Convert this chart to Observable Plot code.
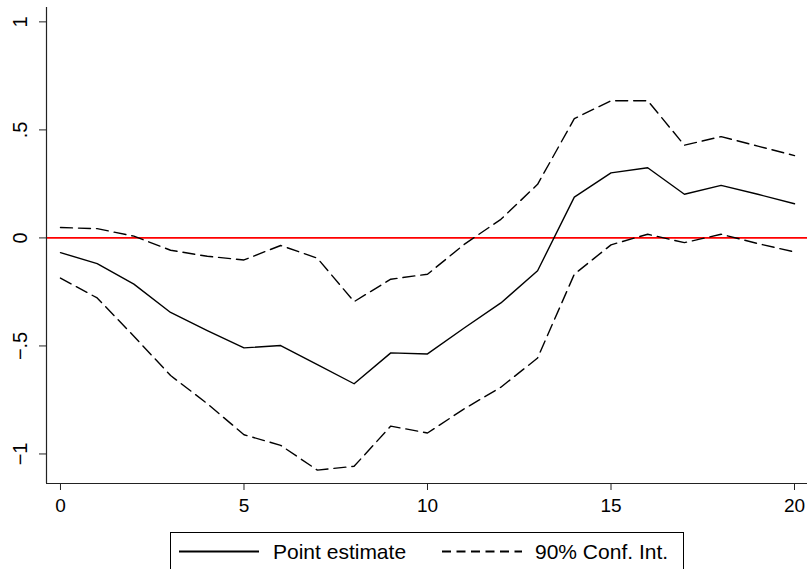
<!DOCTYPE html>
<html>
<head>
<meta charset="utf-8">
<script src="https://cdn.jsdelivr.net/npm/d3@7"></script>
<script src="https://cdn.jsdelivr.net/npm/@observablehq/plot@0.6"></script>
<style>
  html, body { margin: 0; padding: 0; background: #fff; overflow: hidden; }
  body { width: 808px; height: 569px; font-family: "Liberation Sans", Arial, sans-serif; }
  #chart svg { display: block; }
  #legend { display: block; margin-left: 170px; margin-top: 7px; }
</style>
</head>
<body>
<div id="chart"></div>
<div id="legend"></div>
<script>
// ---- data ----
const periods = [0,1,2,3,4,5,6,7,8,9,10,11,12,13,14,15,16,17,18,19,20];
const pointEstimate = [-0.068,-0.119,-0.214,-0.345,-0.429,-0.509,-0.498,-0.586,-0.675,-0.532,-0.537,-0.417,-0.301,-0.152,0.189,0.301,0.325,0.202,0.243,0.202,0.158];
const ciUpper = [0.048,0.043,0.008,-0.057,-0.085,-0.102,-0.035,-0.094,-0.295,-0.191,-0.168,-0.030,0.086,0.248,0.552,0.635,0.635,0.429,0.469,0.425,0.381];
const ciLower = [-0.186,-0.278,-0.455,-0.637,-0.767,-0.911,-0.960,-1.075,-1.057,-0.871,-0.903,-0.791,-0.691,-0.556,-0.168,-0.032,0.017,-0.022,0.017,-0.026,-0.065];
const xTicks = [0,5,10,15,20];
const yTicks = [-1,-0.5,0,0.5,1];
const yTickLabels = ["\u22121","\u2212.5","0",".5","1"];
const legendLabels = ["Point estimate","90% Conf. Int."];
const refLine = [0];

const rows = periods.map((t, i) => ({t, point: pointEstimate[i], upper: ciUpper[i], lower: ciLower[i]}));
const yLabelRows = yTicks.map((v, i) => ({v, label: yTickLabels[i]}));
const xDomain = [-0.381, 20.354];
const yDomain = [-1.1367, 1.0665];
const font = "'Liberation Sans', Arial, sans-serif";
const axisColor = "#222";

const chart = Plot.plot({
  width: 808,
  height: 525,
  marginLeft: 46,
  marginRight: 1,
  marginTop: 7,
  marginBottom: 42,
  x: {domain: xDomain},
  y: {domain: yDomain},
  style: {fontFamily: font, background: "#fff", color: "#000", overflow: "visible"},
  marks: [
    Plot.ruleY(refLine, {stroke: "#ff0000", strokeWidth: 1.6}),
    Plot.line(rows, {x: "t", y: "upper", stroke: "#000", strokeWidth: 1.4, strokeDasharray: "12,6"}),
    Plot.line(rows, {x: "t", y: "lower", stroke: "#000", strokeWidth: 1.4, strokeDasharray: "12,6"}),
    Plot.line(rows, {x: "t", y: "point", stroke: "#000", strokeWidth: 1.4}),
    Plot.ruleX([xDomain[0]], {stroke: axisColor, strokeWidth: 1.2}),
    Plot.ruleY([yDomain[0]], {stroke: axisColor, strokeWidth: 1.2}),
    Plot.axisX({ticks: xTicks, tickSize: 7, tickPadding: 8, fontSize: 19, stroke: axisColor, label: null, tickFormat: d => String(d)}),
    Plot.axisY({ticks: yTicks, tickSize: 7, stroke: axisColor, label: null, tickFormat: () => ""}),
    Plot.text(yLabelRows, {y: "v", text: "label", frameAnchor: "left", dx: -26, rotate: -90,
      textAnchor: "middle", lineAnchor: "middle", fontSize: 20, fill: "#000"})
  ]
});
document.getElementById("chart").appendChild(chart);

// ---- legend (below the plot) ----
const lg = d3.select("#legend").append("svg")
  .attr("width", 514).attr("height", 40)
  .style("display", "block")
  .style("font-family", font);
lg.append("rect").attr("x", 0.5).attr("y", 0.5).attr("width", 513).attr("height", 45)
  .attr("fill", "#fff").attr("stroke", "#000").attr("stroke-width", 1);
lg.append("line").attr("x1", 9).attr("x2", 89).attr("y1", 19.5).attr("y2", 19.5)
  .attr("stroke", "#000").attr("stroke-width", 1.8);
lg.append("text").attr("x", 103).attr("y", 27).attr("font-size", 21).attr("fill", "#000").text(legendLabels[0]);
lg.append("line").attr("x1", 272).attr("x2", 352).attr("y1", 19.5).attr("y2", 19.5)
  .attr("stroke", "#000").attr("stroke-width", 1.8).attr("stroke-dasharray", "9,5.5");
lg.append("text").attr("x", 365).attr("y", 27).attr("font-size", 21).attr("fill", "#000").text(legendLabels[1]);
</script>
</body>
</html>
